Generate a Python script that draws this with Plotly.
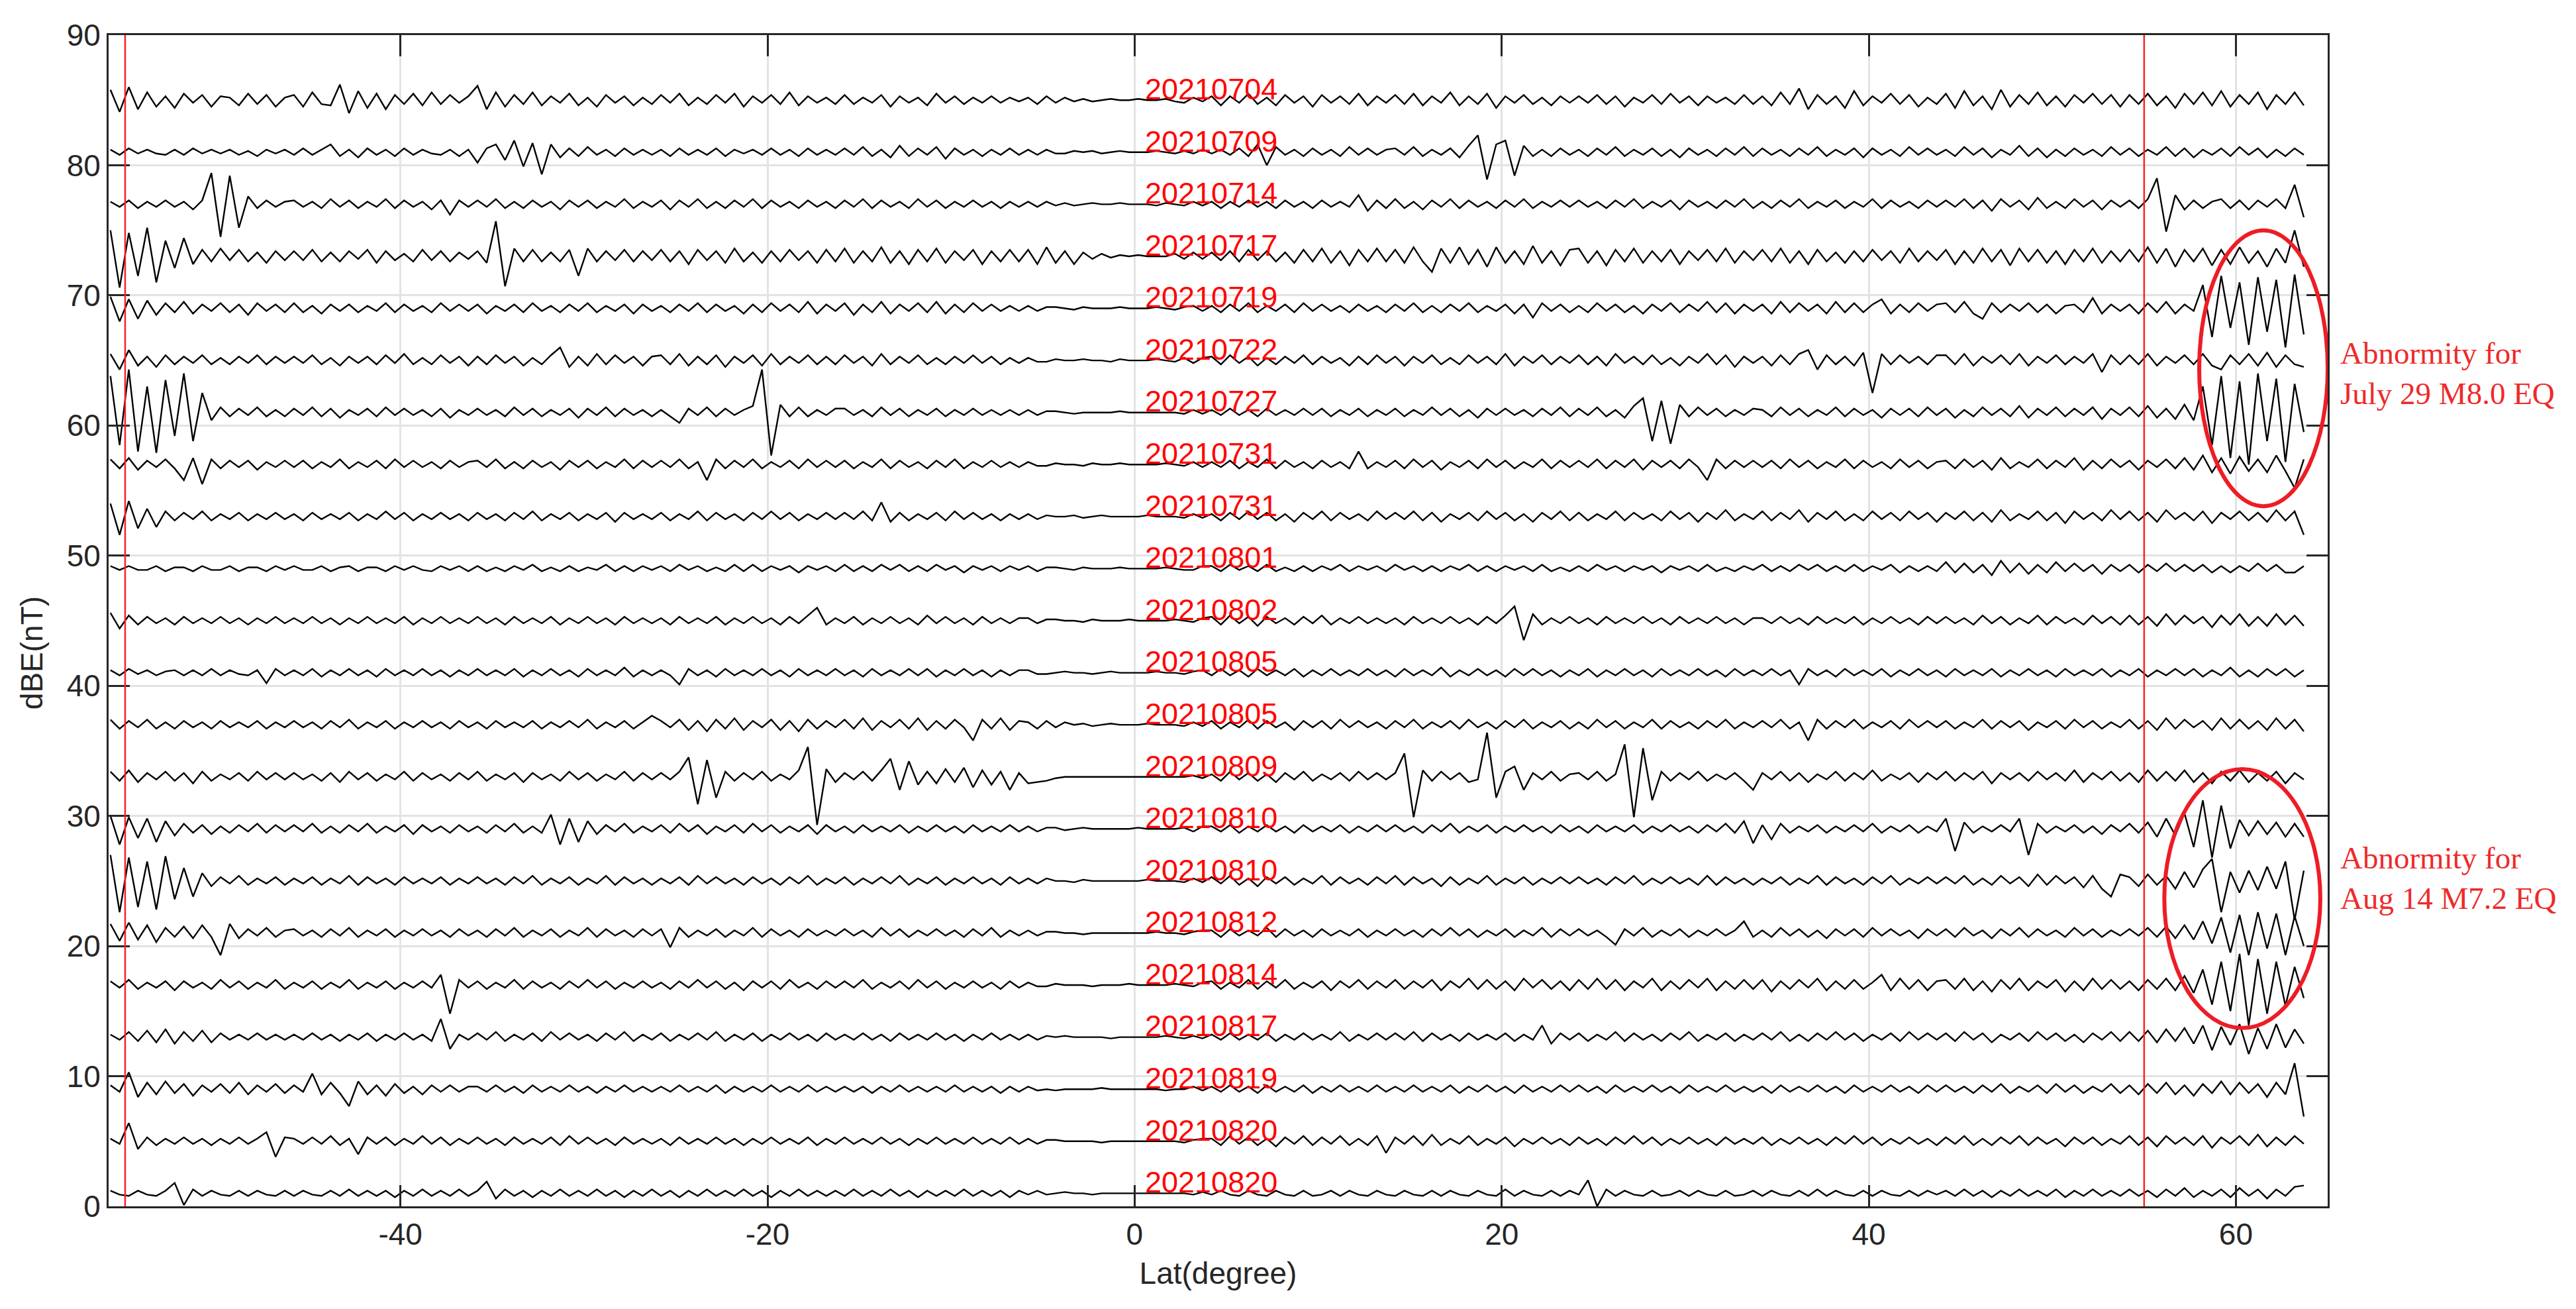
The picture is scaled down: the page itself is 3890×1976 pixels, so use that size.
import numpy as np
import plotly.graph_objects as go

# Latitude grid of the profiles (degrees), one sample every 0.5 deg
LAT_START = -55.8
LAT_STEP = 0.5

DATE_LABELS = ["20210704", "20210709", "20210714", "20210717", "20210719", "20210722",
               "20210727", "20210731", "20210731", "20210801", "20210802", "20210805",
               "20210805", "20210809", "20210810", "20210810", "20210812", "20210814",
               "20210817", "20210819", "20210820", "20210820"]

# baseline (nT) each orbit is shifted to
BASELINES = [85, 81, 77, 73, 69, 65, 61, 57, 53, 49, 45, 41, 37, 33, 29, 25, 21, 17, 13, 9, 5, 1]

# dBE deviation from the baseline, in 0.1 nT
DBE_0704 = [8,-9,10,-7,6,-5,3,-6,5,-2,4,-5,3,2,-4,5,-3,4,-5,2,
            4,-5,6,-3,-4,12,-10,7,-6,5,-7,4,-3,5,-4,6,-3,4,-2,3,
            11,-7,6,-5,4,-3,6,-4,3,-2,5,-4,2,-5,4,-2,3,-4,2,-3,
            4,-2,5,-4,2,-3,4,-2,5,-5,3,-2,4,-3,6,-4,3,-2,2,-3,
            4,-3,2,-2,4,-5,3,-2,2,-4,5,-2,3,-3,2,-2,3,-2,2,-1,
            2,-3,3,-2,2,-1,1,-1,0,1,0,0,1,0,0,1,-1,-2,2,-1,
            3,-4,3,-2,5,-3,2,-4,4,-2,3,-5,4,-2,3,-3,5,-4,3,-2,
            4,-3,5,-4,3,-2,6,-4,3,-3,5,-6,3,-2,4,-3,2,-4,3,-2,
            3,-2,4,-3,3,-5,2,-2,4,-3,5,-2,3,-4,3,-2,2,-3,4,-3,
            3,-4,6,-3,9,-7,4,-3,3,-6,7,-4,3,-2,5,-3,4,-5,2,-3,
            5,-6,7,-4,3,-7,8,-5,4,-3,6,-4,3,-5,4,-2,5,-3,4,-5,
            4,-3,5,-4,3,-6,5,-3,6,-4,7,-5,4,-3,6,-7,4,-3,6,-4]
DBE_0709 = [2,-2,3,-1,2,-1,-2,2,-2,3,-1,2,-1,2,-2,1,-3,2,-1,2,
            -2,3,-2,2,6,-3,2,-4,3,-2,2,-3,3,-2,2,-1,-2,2,-3,2,
            -8,3,6,-6,9,-11,7,-17,6,-4,3,-3,4,-2,2,-3,3,-2,2,-2,
            2,-3,3,-2,2,-2,3,-3,2,-1,2,-2,3,-2,2,-3,3,-2,2,-2,
            3,-2,4,-3,2,-4,5,-3,3,-2,4,-5,3,-2,2,-3,2,-2,3,-2,
            2,-2,2,-1,-1,1,0,1,-1,0,1,0,0,0,1,0,-1,1,-1,2,
            -1,2,-2,3,-3,6,-10,4,-2,2,-3,3,-2,2,-3,4,-2,3,-2,2,
            3,-2,4,-3,2,-2,3,-4,5,13,-21,6,9,-18,5,-3,2,-3,3,-2,
            2,-3,3,-2,4,-3,2,-2,3,-3,2,-4,3,-2,2,-3,3,-2,4,-3,
            3,-2,2,-3,3,-2,4,-3,2,-2,3,-4,3,-2,2,-3,4,-2,3,-2,
            2,-3,4,-2,3,-4,2,-2,5,-3,3,-4,2,-3,3,-2,2,-3,4,-2,
            3,-3,2,-2,4,-3,3,-4,2,-2,3,-3,4,-2,3,-4,2,-3,3,-2]
DBE_0714 = [2,-2,3,-3,2,-2,3,-2,2,-4,3,24,-25,22,-18,6,-3,3,-2,2,
            3,-2,2,-3,4,-2,3,-3,2,-2,4,-3,3,-2,2,-4,3,-8,3,-2,
            3,-2,4,-3,2,-3,3,-2,2,-4,3,-2,3,-3,2,-2,4,-3,2,-2,
            3,-4,3,-2,4,-3,2,-3,3,-2,4,-3,3,-2,2,-3,3,-2,2,-3,
            3,-2,4,-3,3,-2,2,-3,4,-2,3,-3,2,-2,3,-2,2,-3,2,-2,
            2,-2,2,-1,1,-1,0,1,0,0,1,0,0,0,-1,1,0,-1,2,-1,
            2,-3,2,-2,3,-2,2,-3,3,-2,2,-3,3,-2,2,-2,7,-5,3,-3,
            4,-3,2,-4,3,-2,4,-3,3,-2,2,-3,3,-2,4,-3,2,-2,3,-2,
            3,-2,2,-3,3,-2,4,-3,2,-2,3,-4,3,-2,2,-3,3,-2,4,-3,
            2,-3,3,-2,4,-3,2,-2,3,-3,2,-2,4,-3,3,-2,2,-3,3,-2,
            3,-2,4,-3,3,-5,4,-2,3,-4,5,-3,2,-3,4,-2,3,-4,3,-2,
            3,-3,4,20,-21,7,-4,3,-3,2,4,-3,3,-4,3,-2,4,-3,15,-10]
DBE_0717 = [20,-24,18,-15,22,-20,12,-9,14,-6,5,-4,6,-3,5,-4,3,-5,4,-3,
            4,-3,5,-4,3,-4,4,-2,5,-5,4,-3,2,-4,5,-3,4,-4,3,-2,
            4,-5,27,-23,6,-4,5,-4,3,-4,5,-15,6,-4,4,-3,5,-4,4,-3,
            5,-4,4,-6,5,-3,4,-5,6,-4,3,-5,4,-4,5,-3,4,-5,5,-4,
            6,-5,4,-4,7,-5,4,-6,5,-4,6,-5,4,-3,5,-6,4,-4,5,-4,
            5,-6,7,-5,4,-6,3,-2,2,-1,1,0,1,0,0,0,2,-2,3,-2,
            3,-3,4,-4,5,-3,4,-4,3,-5,5,-4,6,-5,4,-7,5,-4,6,-4,
            5,-5,7,-4,-12,6,-5,7,-6,5,-8,7,-5,4,-6,8,-5,4,-7,5,
            6,-5,4,-7,5,-4,6,-5,4,-4,5,-6,4,-3,5,-4,6,-5,4,-3,
            5,-4,6,-5,4,-6,5,-4,3,-5,4,-4,5,-3,4,-5,6,-4,4,-3,
            5,-6,4,-5,6,-4,5,-7,6,-4,5,-5,4,-6,5,-4,6,-5,4,-4,
            5,-4,7,-5,6,-8,5,-4,6,-7,5,-6,7,-5,4,-8,6,-5,20,-8]
DBE_0719 = [9,-10,7,-8,6,-5,4,-3,5,-4,3,-2,4,-3,3,-5,4,-2,3,-3,
            4,-3,2,-4,3,-2,3,-3,2,-2,4,-3,3,-2,2,-3,4,-2,3,-2,
            3,-4,2,-2,3,-3,4,-2,2,-3,3,-2,4,-3,2,-2,3,-4,3,-2,
            2,-3,3,-2,4,-3,3,-2,2,-4,3,-3,4,-2,3,-3,5,-4,3,-2,
            4,-5,3,-3,5,-4,3,-2,4,-3,5,-4,3,-3,4,-2,3,-2,2,-2,
            2,-2,1,1,0,-1,1,0,0,0,1,0,0,0,1,0,-1,1,2,-2,
            2,-3,3,-2,4,-3,2,-2,3,-3,4,-2,3,-2,2,-3,3,-2,2,-3,
            3,-2,4,-3,2,-3,3,-2,4,-3,2,-2,3,-4,3,-7,4,-2,3,-3,
            2,-3,4,-2,3,-3,2,-4,3,-2,4,-3,3,-2,5,-3,4,-4,3,-2,
            3,-4,5,-3,4,-2,3,-4,5,-3,4,-3,3,7,-4,3,-3,4,-2,3,
            4,-3,5,-4,-8,4,-3,3,-2,4,-3,3,-4,2,3,-3,8,-4,3,-2,
            3,-4,4,-3,5,-4,3,-2,18,-22,25,-15,20,-28,24,-18,22,-30,26,-20]
DBE_0722 = [5,-7,8,-4,3,-5,4,-3,3,-2,4,-3,2,-3,3,-2,4,-3,3,-2,
            3,-2,4,-3,2,-4,3,-2,3,-3,4,-2,5,-3,2,-3,4,-2,3,-4,
            3,-3,4,-2,3,-4,2,-3,4,10,-5,3,-4,5,-3,4,-2,3,-4,3,
            4,-3,5,-4,3,-3,4,-5,3,-2,4,-4,5,-3,3,-2,4,-3,3,-3,
            4,-2,3,-4,5,-3,3,-2,4,-3,2,-3,3,-2,4,-2,3,-3,2,-2,
            2,-1,-1,1,0,0,1,0,0,-1,1,0,0,0,1,0,-1,2,-2,2,
            3,-3,4,-2,3,-4,2,-3,3,-2,4,-3,3,-2,2,-4,3,-3,4,-2,
            3,-4,3,-2,4,-3,2,-3,4,-2,3,-3,5,-4,3,-2,4,-3,3,-2,
            4,-3,3,-4,5,-2,3,-3,4,-3,2,-4,3,-2,5,-3,4,-5,3,-2,
            3,-4,4,-3,5,8,-7,4,-3,3,-4,6,-25,5,-3,4,-2,3,-3,4,
            4,-3,5,-4,3,-2,4,-3,5,-4,3,-2,4,-3,3,-2,5,-9,4,-3,
            4,-3,5,-4,3,-2,4,-3,5,-4,-7,4,-3,5,-4,6,-5,4,-3,-5]
DBE_0727 = [28,-25,33,-30,20,-31,25,-18,30,-22,15,-6,4,-3,3,-2,4,-3,2,-3,
            3,-2,4,-3,3,-4,2,-2,3,-3,4,-2,3,-2,2,-3,3,-4,2,-2,
            3,-2,2,-3,4,-2,3,-3,2,-2,3,-4,3,-2,4,-3,3,-2,2,-3,
            2,-3,-8,3,-2,4,-3,3,-2,2,5,33,-33,6,-3,4,-3,2,-2,3,
            3,-2,2,-3,4,-2,3,-3,2,-2,3,-3,2,-2,3,-2,2,-2,2,-2,
            2,-2,1,1,0,-1,0,0,0,0,1,0,0,0,0,0,0,-1,2,-1,
            2,-2,3,-2,2,-3,3,-2,2,-2,3,-2,3,-3,2,-2,3,-3,2,-2,
            3,-3,2,-2,4,-2,3,-3,2,-4,3,-2,3,-2,2,-3,3,-2,4,-3,
            3,-2,4,-3,2,-4,5,11,-22,9,-24,6,-3,4,-2,3,-3,2,-2,3,
            2,-3,4,-2,3,-3,2,-2,4,-3,3,-2,2,-4,3,-2,3,-3,4,-2,
            3,-4,2,-3,4,-2,3,-3,5,-4,3,-2,4,-3,3,-2,4,-5,3,-2,
            4,-3,5,-4,3,-5,6,-6,20,-25,28,-35,24,-40,30,-22,26,-38,22,-15]
DBE_0731 = [4,-3,5,-4,3,-2,4,-3,-12,5,-15,4,-3,3,-2,3,-4,2,-2,3,
            -2,3,-3,2,-2,4,-3,2,-2,3,-3,4,-2,3,-2,2,-3,3,-2,2,
            3,-2,4,-3,2,-3,3,-2,2,-4,3,-2,3,-3,2,-2,4,-3,3,-2,
            3,-2,4,-3,2,-12,4,-3,3,-2,4,-3,2,-2,3,-3,4,-2,3,-2,
            3,-3,2,-2,4,-3,3,-2,2,-3,3,-2,4,-3,2,-2,3,-2,2,-2,
            2,-1,-1,1,0,0,-1,1,0,0,1,0,0,0,0,1,0,-1,2,-2,
            2,-2,3,-3,2,-2,4,-3,3,-2,2,-3,3,-2,2,-3,10,-3,2,-2,
            3,-3,4,-2,3,-4,2,-2,3,-3,4,-2,3,-3,2,-2,4,-3,3,-2,
            3,-2,4,-3,3,-2,4,-4,3,-2,3,-3,4,-2,-12,4,-3,3,-2,3,
            -2,3,-3,4,-2,3,-3,2,-2,4,-3,3,-2,2,-3,4,-2,3,-3,2,
            3,-3,4,-2,3,-4,5,-3,2,-2,4,-3,3,-2,5,-4,3,-3,4,-2,
            3,-4,3,-2,4,-3,5,-4,7,-6,5,-7,6,-5,4,-6,7,-5,-18,4]
DBE_0731B = [10,-14,12,-9,6,-8,4,-3,3,-2,4,-3,2,-2,3,-3,2,-2,3,-2,
             2,-3,3,-2,2,-2,3,-3,2,-2,4,-2,3,-3,2,-2,3,-2,2,-3,
             3,-2,2,-3,3,-2,4,-3,2,-2,3,-3,2,-2,3,-4,3,-2,2,-2,
             3,-3,2,-2,4,-3,3,-2,2,-3,3,-2,4,-2,3,-3,2,-2,3,-2,
             3,-2,4,-3,11,-4,3,-3,2,-2,3,-3,4,-2,3,-2,2,-3,2,-2,
             2,-2,1,0,0,1,-1,0,1,0,0,0,0,1,0,0,0,-1,2,-1,
             2,-3,3,-2,4,-2,3,-3,2,-4,3,-2,4,-3,3,-2,2,-3,4,-2,
             3,-2,4,-3,3,-4,2,-2,3,-3,4,-2,3,-3,2,-4,3,-2,4,-3,
             3,-3,2,-2,4,-3,3,-2,2,-3,4,-2,3,-4,3,-2,5,-3,2,-2,
             4,-3,3,-2,5,-4,3,-2,4,-3,2,-3,4,-2,3,-3,4,-2,3,-4,
             3,-2,4,-3,3,-4,5,-3,2,-2,4,-3,3,-5,4,-2,3,-3,5,-2,
             4,-3,3,-4,5,-2,3,-3,4,-5,3,-2,4,-3,3,-4,5,-3,4,-14]
DBE_0801 = [2,-1,2,-1,-1,2,-2,1,1,-2,2,-1,-1,2,-2,1,1,-2,2,-1,
            2,-1,-1,2,-2,1,2,-2,1,1,-2,2,-1,2,-1,-2,2,-1,2,-2,
            2,-2,1,-2,2,-1,3,-2,1,-2,2,-2,1,-1,3,-2,2,-2,2,-1,
            2,-2,3,-1,2,-2,1,-2,3,-2,3,-2,2,-1,2,-3,2,-1,2,-2,
            3,-2,2,-2,3,-1,3,-2,2,-2,3,-1,2,-3,2,-1,2,-2,2,-1,
            2,-2,1,1,0,-1,1,0,0,0,1,0,0,0,0,1,0,-1,-1,2,
            2,-2,3,-1,2,-2,3,-2,1,-2,2,-2,2,-1,3,-2,2,-1,2,-2,
            3,-1,2,-2,2,-2,2,-1,3,-2,2,-2,2,-1,2,-2,3,-2,1,-2,
            2,-2,3,-1,2,-2,2,-1,2,-3,2,-1,2,-2,3,-2,1,-2,2,-1,
            3,-2,2,-2,3,-1,3,-2,2,-2,3,-2,2,-1,3,-3,2,-2,2,-2,
            5,-3,4,-3,3,-5,6,-3,4,-4,3,-3,5,-2,4,-2,3,-4,3,-2,
            3,-3,3,-2,4,-2,3,-2,3,-3,2,-3,2,-2,4,-2,3,-3,-3,2]
DBE_0802 = [6,-6,4,-3,3,-2,2,-3,3,-2,2,-2,3,-2,2,-3,2,-2,3,-2,
            2,-2,3,-2,2,-3,2,-2,3,-2,2,-2,3,-3,2,-2,3,-2,2,-2,
            3,-2,2,-3,3,-2,2,-2,3,-3,2,-2,3,-2,2,-3,3,-2,2,-2,
            2,-3,3,-2,2,-2,3,-3,2,-2,3,-2,2,-3,3,-2,4,10,-3,2,
            -2,3,-3,2,-2,3,-2,2,-3,4,-2,3,-2,2,-3,3,-2,2,-2,2,
            2,-2,1,1,0,0,-1,1,0,0,0,1,0,0,0,0,1,0,-1,2,
            3,-3,4,-2,3,-4,3,-2,2,-3,3,-2,4,-3,2,-2,3,-2,2,-2,
            2,-3,3,-2,2,-2,3,-2,2,-3,3,-2,4,11,-15,5,-3,2,-2,3,
            -2,2,-3,3,-2,2,-2,3,-2,2,-3,3,-2,2,-2,3,-2,2,-3,2,
            2,-2,3,-2,2,-3,3,-2,2,-2,3,-3,2,-2,3,-2,2,-3,3,-2,
            3,-2,2,-3,4,-2,3,-3,2,-2,4,-3,3,-2,2,-3,4,-2,3,-3,
            4,-3,3,-4,5,-3,4,-2,3,-5,4,-3,5,-4,3,-4,5,-3,4,-4]
DBE_0805 = [2,-2,3,-1,2,-2,1,2,-2,2,-2,3,-2,2,-1,-2,2,-8,3,-2,
            2,-2,3,-3,2,-2,3,-2,2,-3,3,-2,2,-2,3,-2,2,-3,2,-2,
            3,-2,2,-2,3,-3,2,-2,3,-2,2,-3,3,-2,2,-2,4,-3,2,-2,
            2,-2,-9,3,-2,2,-3,3,-2,2,-2,3,-2,2,-3,3,-2,2,-2,3,
            -2,2,-3,3,-2,2,-2,3,-2,3,-3,2,-2,3,-2,2,-3,2,-2,2,
            2,-1,-1,0,1,0,0,-1,0,1,0,0,0,0,1,0,0,-1,1,2,
            -2,3,-2,2,-3,3,-2,2,-2,3,-3,2,-2,3,-2,2,-2,3,-2,2,
            -3,3,-2,2,-2,4,-3,2,-2,3,-2,2,-3,3,-2,3,-2,2,-3,2,
            -2,3,-3,2,-2,3,-2,2,-3,3,-2,2,-2,3,-2,2,-3,3,-2,2,
            -2,3,-2,2,-9,3,-2,2,-3,3,-2,2,-2,3,-3,2,-2,3,-2,2,
            -3,3,-2,2,-2,3,-3,2,-2,3,-2,2,-3,3,-2,2,-2,3,-3,2,
            -2,3,-3,2,-2,3,-2,3,-3,2,-2,4,-3,2,-3,3,-2,3,-3,2]
DBE_0805B = [4,-3,3,-2,4,-3,2,-3,3,-2,2,-3,3,-2,2,-2,3,-3,2,-2,
             3,-2,2,-3,3,-2,4,-3,2,-2,3,-3,2,-2,3,-2,2,-3,3,-2,
             2,-3,3,-2,2,-2,3,-3,2,-2,3,-2,4,-3,2,-2,3,-3,2,7,
             3,-2,4,-4,3,-5,4,-3,5,-4,3,-2,4,-4,3,-5,4,-3,3,-2,
             4,-3,5,-4,3,-2,4,-3,5,-4,3,-3,4,-2,-12,4,-3,5,-4,3,
             2,-3,3,-2,2,0,1,-1,0,1,0,0,0,1,0,0,0,-1,2,-1,
             3,-3,2,-2,4,-3,3,-2,2,-4,3,-2,3,-3,4,-2,3,-2,2,-3,
             3,-2,4,-3,2,-2,3,-3,4,-2,2,-3,3,-2,4,-3,2,-2,3,-3,
             2,-3,4,-2,3,-3,2,-2,4,-3,3,-2,2,-3,3,-2,4,-3,2,-2,
             3,-2,4,-3,2,-12,4,-3,3,-2,4,-3,2,-2,3,-3,4,-2,3,-2,
             3,-3,2,-2,4,-3,3,-2,3,-4,2,-2,3,-3,4,-2,3,-3,2,-2,
             4,-3,3,-4,5,-3,4,-2,3,-4,5,-3,4,-3,3,-4,5,-3,4,-5]
DBE_0809 = [4,-3,5,-4,3,-2,4,-3,3,-5,4,-3,2,-2,3,-3,4,-2,3,-2,
            3,-2,2,-3,3,-4,4,-2,3,-3,2,-2,4,-3,3,-2,2,-3,3,-2,
            4,-3,2,-2,3,-4,3,-2,2,-3,4,-2,3,-3,2,-2,4,-3,3,-2,
            3,-2,4,15,-21,13,-16,4,-3,3,-2,4,-3,2,-2,5,23,-37,6,-4,
            3,-2,4,-3,5,14,-10,12,-6,4,-5,6,-4,7,-8,5,-6,4,-10,3,
            -5,-4,-3,-1,0,0,0,0,0,0,0,0,0,0,0,0,0,0,1,-1,
            2,-3,4,-2,3,-3,2,-4,3,-2,4,-3,2,-2,3,-3,4,-2,3,-2,
            3,18,-31,5,-3,4,-2,3,-4,-2,34,-16,4,8,-10,3,-2,4,-3,2,
            3,-2,4,-3,2,25,-31,22,-18,4,-3,3,-2,4,-3,2,-2,3,-3,-10,
            3,-2,4,-3,3,-4,2,-2,4,-3,3,-2,5,-3,2,-2,3,-4,3,-2,
            4,-3,3,-2,4,-5,3,-2,3,-3,4,-2,3,-3,5,-4,3,-2,4,-3,
            3,-4,5,-3,4,-3,5,-4,3,-5,4,-3,5,-4,3,-3,4,-5,3,-2]
DBE_0810 = [10,-12,9,-7,8,-10,6,-5,4,-3,3,-4,2,-3,3,-2,4,-3,3,-2,
            3,-2,4,-3,2,-3,3,-2,4,-3,2,-2,3,-4,3,-2,2,-3,3,-2,
            2,-3,3,-2,4,-3,2,-3,11,-12,8,-10,6,-4,3,-2,4,-3,2,-2,
            3,-3,4,-2,3,-4,2,-2,3,-3,4,-2,3,-3,2,-2,3,-4,3,-2,
            2,-3,3,-2,2,-2,3,-3,2,-2,3,-2,2,-3,3,-2,2,-2,3,-2,
            2,-2,1,1,-1,0,1,0,0,0,0,0,1,0,0,0,0,1,-2,2,
            2,-2,3,-3,2,-2,3,-2,2,-3,3,-2,2,-2,3,-3,2,-2,3,-2,
            3,-2,2,-3,3,-2,4,-3,2,-2,3,-3,2,-2,3,-2,2,-3,3,-2,
            2,-3,3,-2,2,-2,3,-3,2,-2,3,-2,2,-3,3,-2,4,-3,6,-11,
            3,-8,4,-3,2,-2,3,-3,2,-2,3,-2,4,-3,2,-2,3,-3,2,-2,
            8,-17,5,-3,2,-2,3,-2,8,-20,4,-3,2,-2,3,-3,2,-4,3,-2,
            4,-3,5,-6,8,-5,12,-14,22,-22,18,-15,7,-5,6,-4,5,-6,4,-6]
DBE_0810B = [20,-24,18,-20,15,-22,19,-14,10,-12,6,-4,3,-2,4,-3,2,-2,3,-3,
             2,-2,3,-3,2,-2,4,-3,3,-2,2,-3,3,-2,2,-2,3,-3,2,-2,
             3,-2,2,-3,3,-2,4,-3,2,-2,3,-3,2,-2,4,-3,3,-2,2,-3,
             2,-2,3,-3,4,-2,3,-2,2,-3,3,-2,2,-3,3,-2,4,-3,2,-2,
             3,-3,2,-2,3,-2,4,-3,2,-2,3,-3,2,-2,3,-2,2,-3,3,-2,
             2,-2,2,0,0,-1,1,0,0,0,0,0,0,1,0,0,0,-1,2,-1,
             3,-2,4,-3,2,-4,3,-2,3,-3,2,-2,4,-3,3,-2,2,-3,3,-2,
             4,-3,3,-2,2,-4,3,-3,2,-2,4,-3,2,-2,3,-3,2,-2,3,-2,
             3,-2,2,-3,3,-2,4,-3,2,-2,3,-2,2,-3,4,-3,3,-2,2,-3,
             2,-2,3,-3,2,-2,4,-3,3,-2,2,-3,3,-2,4,-3,2,-2,3,-2,
             3,-2,4,-3,2,-3,4,-2,3,-4,5,-3,4,-2,3,-5,4,-6,-12,5,
             3,-4,5,-3,4,-6,7,-5,9,17,-24,7,-9,8,-7,11,-6,15,-30,8]
DBE_0812 = [7,-6,8,-5,6,-7,4,-3,5,-4,6,-3,-17,7,-4,3,-2,4,-3,2,
            3,-2,2,-3,3,-2,4,-3,2,-2,3,-3,2,-2,3,-2,2,-3,3,-2,
            2,-3,3,-2,4,-3,2,-2,3,-3,2,-2,4,-3,3,-2,2,-3,3,-2,
            3,-11,4,-3,2,-2,3,-3,2,-2,4,-3,3,-2,2,-3,3,-2,2,-2,
            3,-2,2,-3,4,-2,3,-3,2,-2,3,-2,2,-3,3,-2,4,-3,2,-2,
            2,-2,1,1,0,0,-1,0,0,0,0,0,0,0,1,0,0,-1,1,2,
            2,-3,3,-2,2,-2,4,-3,3,-2,2,-3,3,-2,2,-2,3,-3,2,-2,
            3,-2,2,-3,3,-2,4,-2,3,-3,2,-2,3,-3,2,-2,4,-3,3,-2,
            3,-2,2,-3,-9,3,-2,4,-3,2,-2,3,-3,2,-2,3,-2,2,9,-3,
            2,-3,4,-2,3,-3,2,-4,3,-2,3,-3,4,-2,3,-2,2,-4,3,-2,
            3,-3,4,-2,2,-4,3,-2,4,-3,3,-2,2,-3,4,-2,3,-3,2,-2,
            3,-2,4,-3,5,-4,6,-5,9,-8,12,-15,14,-17,16,-12,15,-17,13,-10]
DBE_0814 = [3,-2,4,-3,2,-2,3,-4,3,-2,2,-3,4,-2,3,-3,2,-2,4,-3,
            2,-2,3,-3,2,-2,4,-3,2,-2,3,-3,2,-2,3,-2,8,-22,4,-2,
            3,-3,2,-2,4,-3,3,-2,2,-3,3,-2,4,-2,3,-3,2,-2,3,-2,
            2,-3,3,-2,4,-2,3,-3,2,-4,3,-2,3,-3,4,-2,2,-3,3,-2,
            3,-2,4,-3,2,-2,3,-3,4,-2,3,-3,2,-2,3,-2,2,-3,3,-2,
            2,-1,-1,1,0,0,0,-1,0,0,0,1,0,0,0,0,1,0,-1,2,
            3,-3,2,-2,4,-3,3,-2,4,-3,2,-2,3,-4,3,-2,4,-3,3,-2,
            4,-3,3,-2,4,-4,3,-2,5,-3,4,-3,3,-4,5,-2,4,-3,3,-4,
            4,-3,5,-3,4,-4,3,-2,5,-4,3,-3,4,-2,5,-4,3,-3,4,-3,
            4,-5,3,-3,4,-2,5,-4,3,-3,4,-3,2,8,-4,5,-3,4,-4,3,
            4,-3,5,-4,3,-5,4,-3,5,-4,3,-2,4,-5,3,-4,5,-3,4,-3,
            3,-4,4,-3,5,-4,7,-6,12,-15,18,-20,24,-31,20,-22,18,-16,14,-10]
DBE_0817 = [2,-2,4,-3,5,-4,6,-5,4,-3,5,-4,3,-2,2,-2,3,-2,2,-2,
            2,-2,3,-2,2,-3,2,-2,3,-3,2,-2,3,-2,2,-3,14,-9,2,-2,
            3,-2,4,-3,2,-2,3,-3,4,-2,3,-2,2,-3,3,-2,4,-3,2,-2,
            3,-3,2,-2,3,-2,4,-3,2,-2,3,-3,2,-2,3,-2,2,-3,3,-2,
            2,-2,3,-2,2,-3,3,-2,2,-2,3,-2,2,-3,2,-2,3,-2,2,-2,
            2,-2,1,0,1,0,0,0,0,-1,0,0,0,0,0,1,0,-1,1,-1,
            2,-2,3,-2,2,-2,3,-3,2,-2,3,-2,2,-2,4,-3,2,-2,3,-2,
            3,-2,4,-3,3,-2,2,-3,3,-2,2,-2,3,-3,2,-2,9,-5,3,-2,
            3,-3,2,-2,4,-3,3,-2,2,-3,3,-2,4,-3,2,-2,3,-3,2,-2,
            3,-2,4,-3,2,-3,3,-2,4,-2,3,-3,2,-2,3,-3,4,-2,3,-2,
            3,-3,4,-2,3,-4,2,-2,3,-3,4,-2,3,-3,2,-4,3,-2,4,-3,
            4,-3,5,-4,6,-3,7,-5,9,-10,8,-6,10,-13,7,-9,10,-8,6,-5]
DBE_0819 = [3,-2,13,-6,5,-4,6,-3,4,-5,3,-2,4,-3,5,-4,3,-2,4,-3,
            3,-2,12,-4,5,-3,-13,6,-4,3,-5,4,-3,2,-4,3,-2,3,-2,2,
            2,-2,3,-2,2,-3,3,-2,2,-2,3,-2,2,-3,2,-2,3,-2,2,-2,
            2,-2,3,-2,2,-2,3,-3,2,-2,2,-2,3,-2,2,-2,3,-2,2,-2,
            2,-2,2,-3,2,-2,3,-2,2,-2,2,-2,3,-2,2,-2,2,-3,2,-2,
            2,-1,0,-1,0,0,0,0,1,0,0,0,0,0,0,-1,0,0,2,-1,
            2,-2,3,-2,2,-3,3,-2,2,-2,3,-3,2,-2,3,-2,2,-2,3,-2,
            2,-2,3,-2,2,-2,3,-3,2,-2,3,-2,2,-3,3,-2,2,-2,3,-2,
            3,-2,2,-3,3,-2,2,-2,3,-2,2,-3,3,-2,2,-2,3,-2,2,-2,
            2,-3,3,-2,2,-2,3,-2,2,-3,3,-2,2,-2,3,-2,2,-3,3,-2,
            3,-2,2,-3,3,-2,4,-3,2,-2,3,-3,4,-2,3,-3,2,-2,4,-3,
            3,-4,4,-3,5,-4,3,-5,4,-3,6,-4,5,-3,4,-6,5,-4,20,-21]
DBE_0820 = [2,-2,14,-6,3,-3,2,-2,3,-2,2,-3,2,-2,3,-2,2,7,-12,3,
            2,-2,3,-2,4,-3,2,-10,3,-2,3,-3,2,-2,4,-2,3,-3,2,-2,
            3,-2,2,-3,3,-2,2,-2,3,-3,4,-2,3,-2,2,-3,3,-2,2,-2,
            2,-3,3,-2,2,-2,3,-2,2,-3,2,-2,3,-2,2,-2,3,-3,2,-2,
            3,-2,2,-2,3,-2,2,-3,2,-2,3,-2,2,-2,3,-2,2,-2,3,-2,
            2,-2,1,1,0,0,0,0,-1,0,0,0,0,0,0,0,0,-1,1,2,
            2,-3,4,-2,3,-3,2,-4,3,-2,4,-3,3,-2,4,-3,2,-3,4,-9,
            3,-2,4,-3,5,-3,2,-2,4,-3,2,-2,3,-4,2,-2,3,-2,2,-3,
            3,-2,2,-3,3,-2,4,-2,3,-3,2,-2,3,-2,2,-3,3,-2,2,-2,
            3,-3,2,-2,3,-2,2,-3,3,-2,4,-2,3,-3,2,-2,3,-2,2,-3,
            3,-2,4,-3,2,-3,3,-2,4,-3,3,-2,2,-4,3,-2,3,-3,2,-2,
            4,-3,3,-4,4,-2,3,-3,4,-5,3,-2,4,-3,5,-4,3,-3,4,-2]
DBE_0820B = [2,-1,-2,2,-1,-2,2,8,-9,3,-2,2,-1,-2,2,-2,2,-1,-2,2,
             -2,2,-1,-2,2,-2,3,-2,2,-2,2,-3,2,-2,3,-2,2,-2,3,-2,
             2,9,-4,3,-2,2,-3,2,-2,3,-2,2,-2,3,-2,2,-3,2,-2,3,
             -2,2,-3,2,-2,3,-2,2,-2,3,-2,2,-3,2,-2,3,-2,2,-2,2,
             -2,3,-2,2,-2,3,-2,2,-3,2,-2,2,-2,3,-2,2,-2,2,-3,2,
             -1,2,-1,0,1,0,0,-1,0,0,0,0,0,0,0,0,0,0,-1,1,
             -1,2,-1,-2,2,-1,-2,2,-1,-2,2,-2,-1,2,-2,2,-1,-2,2,-1,
             -2,2,-1,-2,2,-2,2,-1,-2,2,-1,-2,3,-2,2,-1,-2,2,-2,2,
             -1,10,-10,3,-2,2,-1,-2,2,-2,-1,2,-2,2,-1,-2,2,-2,-1,2,
             -2,2,-1,-2,2,-2,3,-2,2,-1,-2,2,-2,2,-1,-2,2,-2,2,-1,
             2,-2,3,-2,2,-3,2,-2,3,-2,2,-2,3,-3,2,-2,3,-2,2,-2,
             3,-2,2,-3,3,-2,4,-3,2,-2,3,-3,4,-2,3,-4,3,-2,5,6]

PROFILES = [DBE_0704, DBE_0709, DBE_0714, DBE_0717, DBE_0719, DBE_0722, DBE_0727,
            DBE_0731, DBE_0731B, DBE_0801, DBE_0802, DBE_0805, DBE_0805B, DBE_0809,
            DBE_0810, DBE_0810B, DBE_0812, DBE_0814, DBE_0817, DBE_0819, DBE_0820,
            DBE_0820B]

# latitude window boundaries (red lines) and the two anomaly regions
WINDOW_LATS = [-55, 55]
ANOMALIES = [
    {"lat": (58.0, 65.0), "dbe": (53.8, 75.0), "text": "Abnormity for<br>July 29 M8.0 EQ", "y": 64.0},
    {"lat": (56.1, 64.6), "dbe": (13.7, 33.6), "text": "Abnormity for<br>Aug 14 M7.2 EQ", "y": 25.2},
]

AXIS_COLOR = "#262626"
GRID_COLOR = "#e3e3e3"
SANS = "Liberation Sans, Arial, sans-serif"
SERIF = "Liberation Serif, Times New Roman, serif"

fig = go.Figure()

for label, base, dev in zip(DATE_LABELS, BASELINES, PROFILES):
    lat = LAT_START + LAT_STEP * np.arange(len(dev))
    fig.add_trace(go.Scatter(x=lat, y=base + np.array(dev) / 10.0, mode="lines",
                             line=dict(color="black", width=2.4),
                             showlegend=False, hoverinfo="skip"))
    fig.add_annotation(x=0.5, y=base + 0.85, text=label, showarrow=False,
                       xanchor="left", yanchor="middle",
                       font=dict(family=SANS, size=45, color="#ff0000"))

for lat in WINDOW_LATS:
    fig.add_shape(type="line", x0=lat, x1=lat, y0=0, y1=90, xref="x", yref="y",
                  line=dict(color="#ff2020", width=2.5))

for a in ANOMALIES:
    fig.add_shape(type="circle", x0=a["lat"][0], x1=a["lat"][1], y0=a["dbe"][0], y1=a["dbe"][1],
                  xref="x", yref="y", line=dict(color="#ee1c25", width=6))
    # text sits just right of the axes box
    fig.add_annotation(x=1.005, xref="paper", y=a["y"], yref="y", text=a["text"],
                       showarrow=False, xanchor="left", yanchor="middle", align="left",
                       font=dict(family=SERIF, size=47, color="#ee2a2a"))

# y label drawn a little below the axis middle, as in the source figure
fig.add_annotation(x=-0.0346, xref="paper", y=42.5, yref="y", text="dBE(nT)", textangle=-90,
                   showarrow=False, xanchor="center", yanchor="middle",
                   font=dict(family=SANS, size=46, color=AXIS_COLOR))

axis_common = dict(showline=True, linecolor=AXIS_COLOR, linewidth=3, mirror="ticks",
                   ticks="inside", ticklen=32, tickwidth=3, tickcolor=AXIS_COLOR,
                   showgrid=True, gridcolor=GRID_COLOR, gridwidth=3, zeroline=False,
                   tickfont=dict(family=SANS, size=46, color=AXIS_COLOR))

fig.update_xaxes(range=[-55.9, 65.0], tickvals=[-40, -20, 0, 20, 40, 60],
                 ticktext=["-40", "-20", "0", "20", "40", "60"],
                 title=dict(text="Lat(degree)", font=dict(family=SANS, size=46, color=AXIS_COLOR),
                            standoff=18),
                 **axis_common)
fig.update_yaxes(range=[0, 90], tickvals=list(range(0, 91, 10)), **axis_common)

fig.update_layout(width=3890, height=1976, paper_bgcolor="white", plot_bgcolor="white",
                  margin=dict(l=156, r=383, t=45, b=163, autoexpand=False))

fig.write_html("out.html")
